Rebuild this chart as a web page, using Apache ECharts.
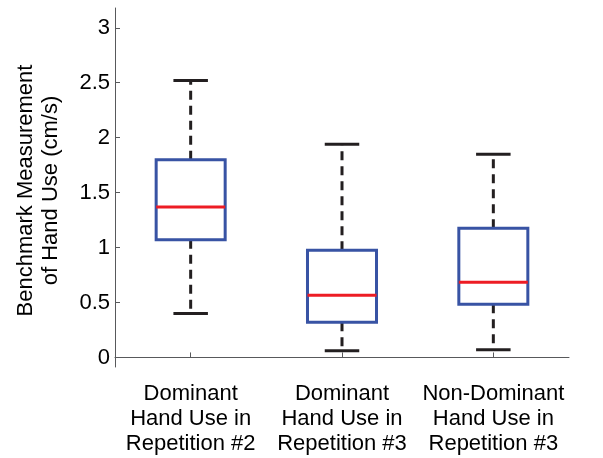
<!DOCTYPE html>
<html>
<head>
<meta charset="utf-8">
<script src="https://cdn.jsdelivr.net/npm/echarts@6/dist/echarts.min.js"></script>
<style>
  html, body { margin: 0; padding: 0; background: #fff; }
  #chart { width: 603px; height: 458px; }
</style>
</head>
<body>
<div id="chart"></div>
<script>
// 分组名称
const categories = [
  'Dominant\nHand Use in\nRepetition #2',
  'Dominant\nHand Use in\nRepetition #3',
  'Non-Dominant\nHand Use in\nRepetition #3'
];
// 箱线图数据: 下须, Q1, 中位数, Q3, 上须
const whiskerLow = [0.40, 0.06, 0.07];
const q1 = [1.07, 0.32, 0.485];
const median = [1.37, 0.565, 0.685];
const q3 = [1.80, 0.975, 1.175];
const whiskerHigh = [2.52, 1.94, 1.85];
const yTicks = [0, 0.5, 1, 1.5, 2, 2.5, 3];

const font = '"Liberation Sans", Arial, sans-serif';
const boxColor = '#3853a4';
const medianColor = '#ed1c24';
const whiskerColor = '#231f20';

const seriesData = categories.map((c, i) => [i, whiskerLow[i], q1[i], median[i], q3[i], whiskerHigh[i]]);

function renderBox(params, api) {
  const idx = api.value(0);
  const lo = api.coord([idx, api.value(1)]);
  const b1 = api.coord([idx, api.value(2)]);
  const md = api.coord([idx, api.value(3)]);
  const b3 = api.coord([idx, api.value(4)]);
  const hi = api.coord([idx, api.value(5)]);
  const band = api.size([1, 0])[0];
  const halfBox = band * 0.228;
  const halfCap = halfBox / 2;
  const x = lo[0];
  const dashed = { stroke: whiskerColor, lineWidth: 3, lineDash: [9, 6] };
  const solid = { stroke: whiskerColor, lineWidth: 3 };
  return {
    type: 'group',
    children: [
      { type: 'line', shape: { x1: x, y1: b3[1], x2: x, y2: hi[1] }, style: dashed },
      { type: 'line', shape: { x1: x, y1: b1[1], x2: x, y2: lo[1] }, style: dashed },
      { type: 'line', shape: { x1: x - halfCap, y1: hi[1], x2: x + halfCap, y2: hi[1] }, style: solid },
      { type: 'line', shape: { x1: x - halfCap, y1: lo[1], x2: x + halfCap, y2: lo[1] }, style: solid },
      {
        type: 'rect',
        shape: { x: x - halfBox, y: b3[1], width: halfBox * 2, height: b1[1] - b3[1] },
        style: { fill: '#fff', stroke: boxColor, lineWidth: 3 }
      },
      { type: 'line', shape: { x1: x - halfBox, y1: md[1], x2: x + halfBox, y2: md[1] }, style: { stroke: medianColor, lineWidth: 3 } }
    ]
  };
}

const myChart = echarts.init(document.getElementById('chart'), null, { renderer: 'canvas' });
myChart.setOption({
  animation: false,
  backgroundColor: '#fff',
  grid: { left: 115, right: 34, top: 8, bottom: 91, containLabel: false },
  xAxis: {
    type: 'category',
    data: categories,
    boundaryGap: true,
    axisLine: { lineStyle: { color: '#58595b', width: 1 } },
    axisTick: { show: true, inside: true, length: 5, alignWithLabel: true, lineStyle: { color: '#58595b' } },
    axisLabel: {
      color: '#000', fontFamily: font, fontSize: 22, lineHeight: 25, margin: 14, interval: 0
    },
    splitLine: { show: false }
  },
  yAxis: {
    type: 'value',
    min: -0.087,
    max: 3.18,
    name: 'Benchmark Measurement\nof Hand Use (cm/s)',
    nameLocation: 'middle',
    nameGap: 52,
    nameTextStyle: { color: '#000', fontFamily: font, fontSize: 22, lineHeight: 25, padding: [0, 6, 0, 0] },
    axisLine: { show: true, lineStyle: { color: '#58595b', width: 1 } },
    axisTick: { show: true, inside: true, length: 5, customValues: yTicks, lineStyle: { color: '#58595b' } },
    axisLabel: {
      color: '#000', fontFamily: font, fontSize: 22, margin: 5, customValues: yTicks,
      formatter: v => String(v)
    },
    splitLine: { show: false }
  },
  series: [{
    type: 'custom',
    renderItem: renderBox,
    encode: { x: 0, y: [1, 2, 3, 4, 5] },
    data: seriesData
  }]
});
</script>
</body>
</html>
